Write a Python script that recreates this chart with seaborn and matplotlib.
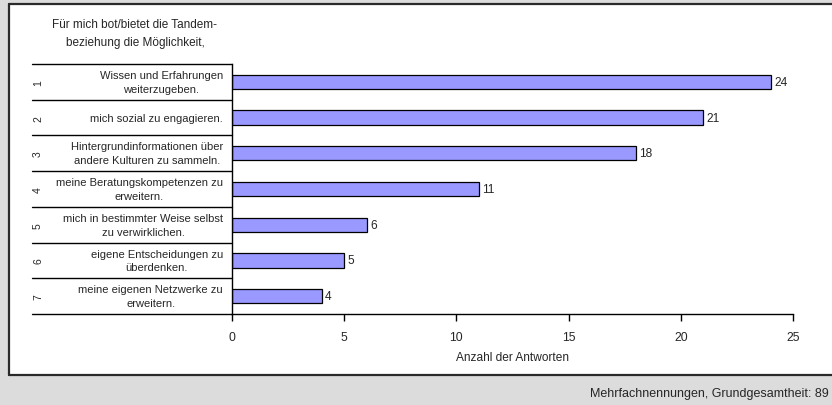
import matplotlib
matplotlib.use("Agg")
import matplotlib.pyplot as plt
import matplotlib.patches as mpatches
import seaborn as sns
import pandas as pd

# Survey answers (multiple choice) and their counts
ranks = ["1", "2", "3", "4", "5", "6", "7"]
statements = [
    "Wissen und Erfahrungen\nweiterzugeben.",
    "mich sozial zu engagieren.",
    "Hintergrundinformationen über\nandere Kulturen zu sammeln.",
    "meine Beratungskompetenzen zu\nerweitern.",
    "mich in bestimmter Weise selbst\nzu verwirklichen.",
    "eigene Entscheidungen zu\nüberdenken.",
    "meine eigenen Netzwerke zu\nerweitern.",
]
counts = [24, 21, 18, 11, 6, 5, 4]
x_ticks = [0, 5, 10, 15, 20, 25]

header = "Für mich bot/bietet die Tandem-\nbeziehung die Möglichkeit,"
x_label = "Anzahl der Antworten"
footer = "Mehrfachnennungen, Grundgesamtheit: 89"

df = pd.DataFrame({"rank": ranks, "count": counts})

sns.set_theme(style="white")
plt.rcParams["font.family"] = ["Liberation Sans", "DejaVu Sans"]

W, H = 832, 406
fig = plt.figure(figsize=(W / 100, H / 100), dpi=100)
fig.patch.set_facecolor("#dcdcdc")

# white panel with dark frame on the left, top and bottom
panel = mpatches.Rectangle((9 / W, 1 - 376 / H), 1.0, (376 - 5) / H,
                           transform=fig.transFigure, facecolor="white",
                           edgecolor="none", zorder=-5)
fig.patches.append(panel)
for xs, ys in [((9, 9), (5, 376)), ((9, W), (5, 5)), ((9, W), (376, 376))]:
    fig.add_artist(plt.Line2D([x / W for x in xs], [1 - y / H for y in ys],
                              transform=fig.transFigure, color="#2a2a2a",
                              lw=1.6, zorder=-4))

ax = fig.add_axes([232 / W, 1 - 315 / H, (793 - 232) / W, (315 - 65) / H])
ax.set_zorder(1)
ax.set_facecolor("none")

sns.barplot(data=df, x="count", y="rank", order=ranks, orient="h",
            color="#9999FF", edgecolor="black", linewidth=0.9,
            width=0.4, saturation=1, ax=ax)

ax.set_xlim(0, 25)
ax.set_ylim(6.5, -0.5)
ax.set_xticks(x_ticks)
ax.set_xticklabels([str(t) for t in x_ticks], fontsize=8.7)
ax.set_yticks([])
ax.set_ylabel("")
ax.set_xlabel(x_label, fontsize=8.6, labelpad=6)
ax.tick_params(axis="x", direction="out", length=5, width=1, color="black",
               pad=7, bottom=True)
for side in ["top", "right"]:
    ax.spines[side].set_visible(False)
for side in ["left", "bottom"]:
    ax.spines[side].set_color("black")
    ax.spines[side].set_linewidth(1)

for cont in ax.containers:
    ax.bar_label(cont, labels=[str(c) for c in counts], padding=2.5,
                 fontsize=8.6)

# table of statements on the left
tab_left = -(232 - 32) / (793 - 232)
trans = ax.get_yaxis_transform()
for b in [i - 0.5 for i in range(len(ranks) + 1)]:
    ax.plot([tab_left, 0], [b, b], transform=trans, color="black", lw=1,
            clip_on=False)

for i, (r, s) in enumerate(zip(ranks, statements)):
    ax.annotate(s, xy=(0, i), xycoords=trans, xytext=(-9, 0),
                textcoords="offset pixels", ha="right", va="center",
                multialignment="center", fontsize=8, linespacing=1.45)
    ax.annotate(r, xy=(0, i), xycoords=trans, xytext=(-194, 0),
                textcoords="offset pixels", ha="center", va="center",
                rotation=90, fontsize=7.5)

fig.text(135 / W, 1 - 34 / H, header, ha="center", va="center",
         fontsize=8.5, linespacing=1.6)
fig.text(829 / W, 1 - 394 / H, footer, ha="right", va="center", fontsize=9)

fig.savefig("out.png", dpi=100, facecolor=fig.get_facecolor())
